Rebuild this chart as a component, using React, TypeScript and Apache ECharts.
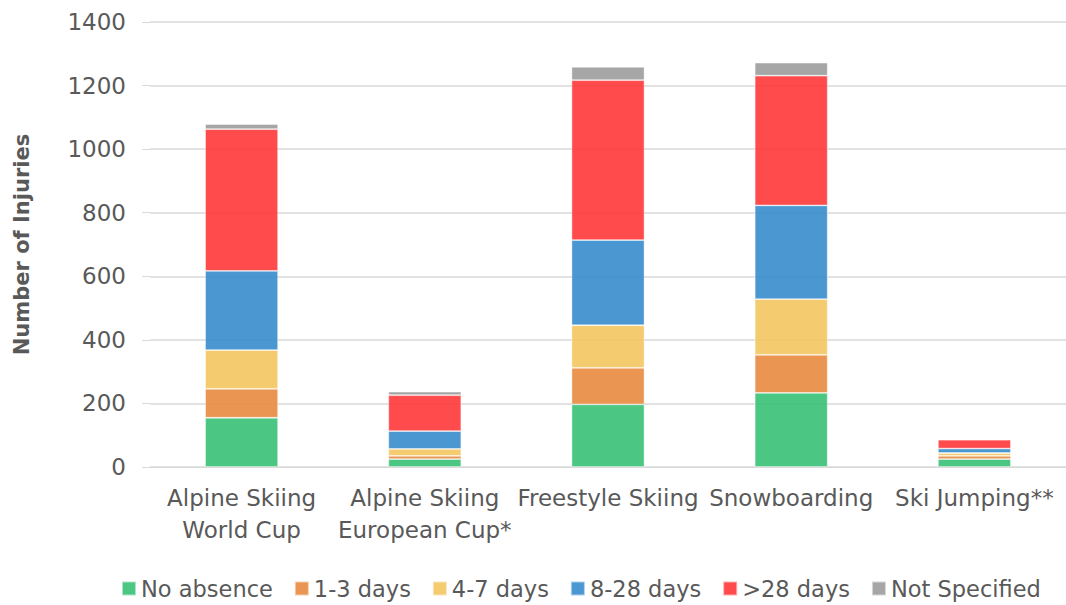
import React, { useEffect, useRef } from "react";
import * as echarts from "echarts";

const categories = [
  "Alpine Skiing\nWorld Cup",
  "Alpine Skiing\nEuropean Cup*",
  "Freestyle Skiing",
  "Snowboarding",
  "Ski Jumping**",
];

const seriesNames = [
  "No absence",
  "1-3 days",
  "4-7 days",
  "8-28 days",
  ">28 days",
  "Not Specified",
];

const noAbsence = [155, 25, 197, 233, 25];
const days1to3 = [91, 10, 115, 120, 10];
const days4to7 = [122, 22, 134, 175, 9];
const days8to28 = [249, 56, 268, 295, 14];
const daysOver28 = [446, 113, 503, 408, 28];
const notSpecified = [16, 11, 42, 41, 0];

const seriesValues = [noAbsence, days1to3, days4to7, days8to28, daysOver28, notSpecified];

const colors = ["#38C175", "#E88A3E", "#F3C55F", "#368CCC", "#FF3737", "#9C9C9C"];

const yTicks = [0, 200, 400, 600, 800, 1000, 1200, 1400];

const FONT = "'DejaVu Sans', sans-serif";
const TEXT = "#595959";

export default function App() {
  const ref = useRef<HTMLDivElement>(null);

  useEffect(() => {
    if (!ref.current) return;
    const chart = echarts.init(ref.current, undefined, { renderer: "svg" });
    chart.setOption({
      animation: false,
      color: colors,
      textStyle: { fontFamily: FONT },
      grid: { left: 150, top: 22, width: 924, height: 445 },
      legend: {
        bottom: 5,
        left: 121,
        width: 1000,
        padding: 0,
        icon: "rect",
        itemWidth: 14,
        itemHeight: 14,
        itemGap: 21,
        textStyle: { fontSize: 22.5, color: TEXT, fontFamily: FONT, padding: [0, 0, 0, 0] },
        data: seriesNames,
      },
      xAxis: {
        type: "category",
        data: categories,
        axisLine: { show: true, lineStyle: { color: "#d9d9d9", width: 1 } },
        axisTick: { show: false },
        axisLabel: {
          fontSize: 23,
          color: TEXT,
          lineHeight: 32,
          margin: 15,
          interval: 0,
        },
      },
      yAxis: {
        type: "value",
        min: yTicks[0],
        max: yTicks[yTicks.length - 1],
        interval: 200,
        name: "Number of Injuries",
        nameLocation: "middle",
        nameGap: 118,
        nameRotate: 90,
        nameTextStyle: { fontSize: 21, fontWeight: "bold", color: TEXT, fontFamily: FONT },
        axisLine: { show: false },
        axisTick: { show: true, length: 8, lineStyle: { color: "#d9d9d9" } },
        axisLabel: { fontSize: 23, color: TEXT, margin: 24, formatter: (v: number) => String(v) },
        splitLine: { lineStyle: { color: "#d9d9d9", width: 1.5 } },
      },
      series: seriesNames.map((name, i) => ({
        name,
        type: "bar",
        stack: "total",
        barWidth: 73,
        data: seriesValues[i],
        itemStyle: {
          opacity: 0.9,
          borderColor: "rgba(255,255,255,0.6)",
          borderWidth: 0.8,
        },
      })),
    });
    return () => chart.dispose();
  }, []);

  return (
    <div
      ref={ref}
      style={{ position: "fixed", left: 0, top: 0, width: 1066, height: 605, background: "#fff" }}
    />
  );
}
